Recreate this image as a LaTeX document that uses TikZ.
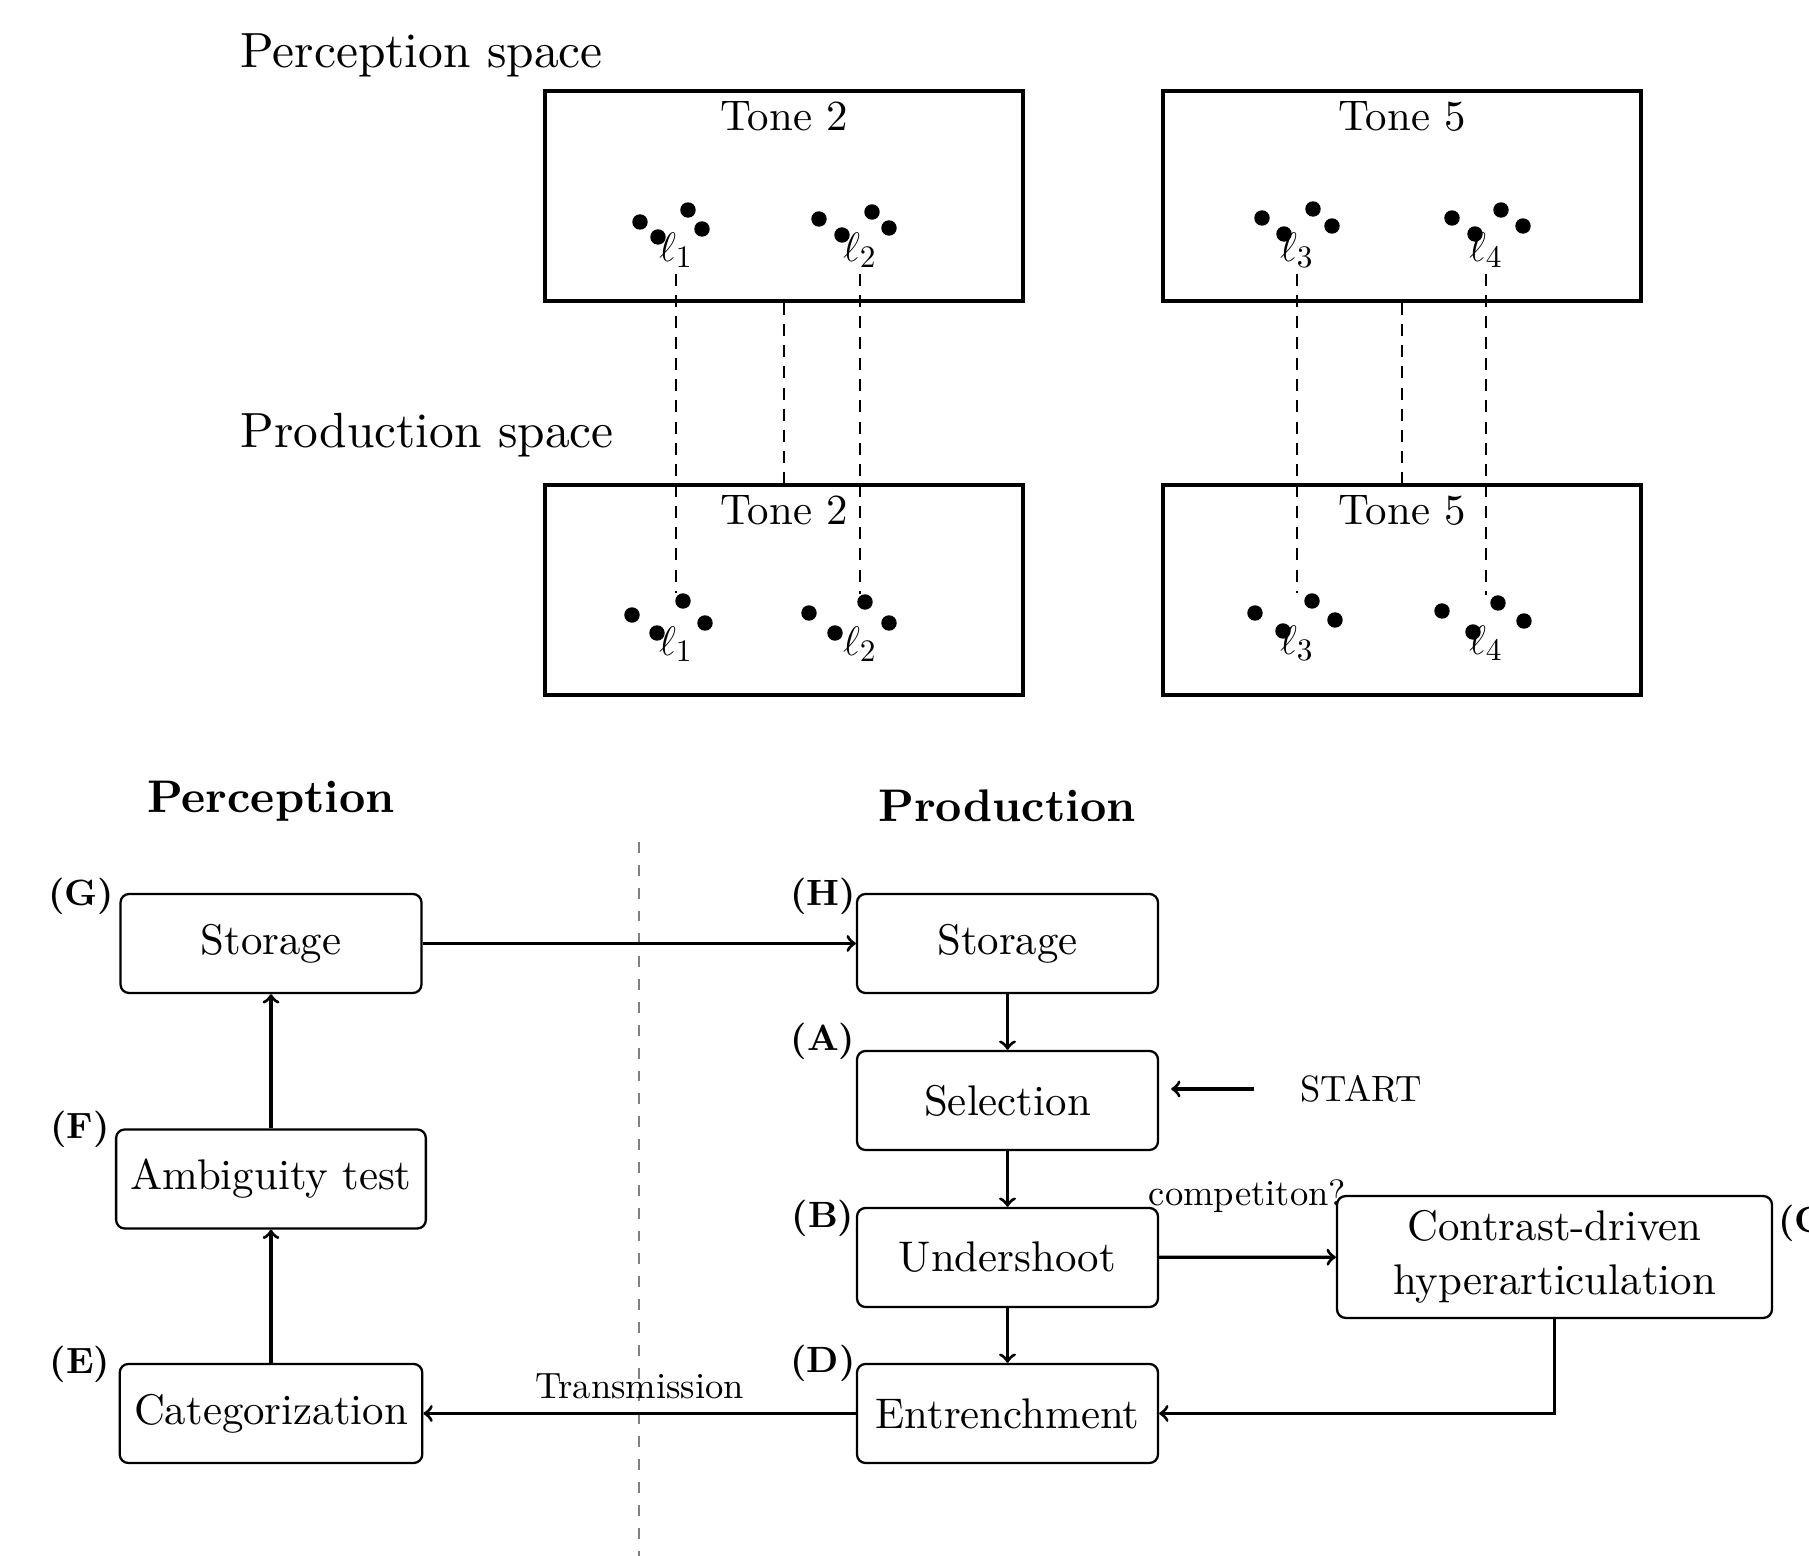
\documentclass[tikz,border=0pt]{standalone}
\usepackage{fontspec}
\setmainfont{lmroman10-regular.otf}[BoldFont=lmroman10-bold.otf,ItalicFont=lmroman10-italic.otf]
\begin{document}
\begin{tikzpicture}[x=0.35pt,y=-0.35pt,
  tonebox/.style={draw,line width=1.4pt,minimum width=167.3pt,minimum height=73.5pt,inner sep=0pt},
  tonetxt/.style={font=\fontsize{15}{18}\selectfont,inner sep=0pt},
  dotn/.style={circle,fill=black,inner sep=0pt,minimum size=5.4pt},
  ell/.style={font=\fontsize{15}{18}\selectfont,inner sep=2pt},
  link/.style={line width=0.75pt,dash pattern=on 4.2pt off 3.2pt},
  flow/.style={draw,rounded corners=3pt,line width=0.8pt,minimum width=105.35pt,minimum height=34.65pt,inner sep=5pt,font=\fontsize{15}{19}\selectfont,align=center},
  arr/.style={->,line width=1.15pt},
  tag/.style={font=\fontsize{12.8}{15}\selectfont\bfseries},
  small/.style={font=\fontsize{12.8}{15}\selectfont},
  spacelbl/.style={font=\fontsize{17.3}{20}\selectfont,inner sep=0pt,anchor=west},
  head/.style={font=\fontsize{16}{19}\selectfont\bfseries,inner sep=0pt}
]
\useasboundingbox (0,0) rectangle (1809,1556);

% ---------- top part ----------
\node[spacelbl] (perspace) at (240,55) {Perception space};
\node[spacelbl] (prodspace) at (240,435) {Production space};

\node[tonebox] (tl) at (784,196) {};
\node[tonebox] (tr) at (1402,196) {};
\node[tonebox] (bl) at (784,590) {};
\node[tonebox] (br) at (1402,590) {};

\node[tonetxt] (tlt) at ([yshift=-9.6pt]tl.north) {Tone 2};
\node[tonetxt] (trt) at ([yshift=-9.6pt]tr.north) {Tone 5};
\node[tonetxt] (blt) at ([yshift=-9.6pt]bl.north) {Tone 2};
\node[tonetxt] (brt) at ([yshift=-9.6pt]br.north) {Tone 5};

% top-left clusters
\node[dotn] (a1) at (640,222) {};
\node[dotn] (a2) at (658,237) {};
\node[dotn] (a3) at (688,210) {};
\node[dotn] (a4) at (702,229) {};
\node[ell] (l1t) at (676,250) {$\ell_1$};
\node[dotn] (b1) at (819,219) {};
\node[dotn] (b2) at (842,235) {};
\node[dotn] (b3) at (872,212) {};
\node[dotn] (b4) at (889,228) {};
\node[ell] (l2t) at (860,250) {$\ell_2$};
% top-right clusters
\node[dotn] (c1) at (1262,218) {};
\node[dotn] (c2) at (1284,234) {};
\node[dotn] (c3) at (1313,209) {};
\node[dotn] (c4) at (1332,226) {};
\node[ell] (l3t) at (1297,250) {$\ell_3$};
\node[dotn] (d1) at (1452,218) {};
\node[dotn] (d2) at (1475,234) {};
\node[dotn] (d3) at (1501,210) {};
\node[dotn] (d4) at (1523,226) {};
\node[ell] (l4t) at (1486,250) {$\ell_4$};
% bottom-left clusters
\node[dotn] (e1) at (632,615) {};
\node[dotn] (e2) at (657,633) {};
\node[dotn] (e3) at (683,601) {};
\node[dotn] (e4) at (705,623) {};
\node[ell] (l1b) at (676,644) {$\ell_1$};
\node[dotn] (f1) at (809,613) {};
\node[dotn] (f2) at (835,633) {};
\node[dotn] (f3) at (865,602) {};
\node[dotn] (f4) at (889,623) {};
\node[ell] (l2b) at (860,644) {$\ell_2$};
% bottom-right clusters
\node[dotn] (g1) at (1255,613) {};
\node[dotn] (g2) at (1283,631) {};
\node[dotn] (g3) at (1312,601) {};
\node[dotn] (g4) at (1335,620) {};
\node[ell] (l3b) at (1297,643) {$\ell_3$};
\node[dotn] (h1) at (1442,611) {};
\node[dotn] (h2) at (1473,632) {};
\node[dotn] (h3) at (1498,603) {};
\node[dotn] (h4) at (1524,621) {};
\node[ell] (l4b) at (1486,643) {$\ell_4$};

% dashed links
\draw[link] (l1t.south) -- (l1t.south |- e3.north);
\draw[link] (l2t.south) -- (l2t.south |- f3.north);
\draw[link] (tl.south) -- (bl.north);
\draw[link] (l3t.south) -- (l3t.south |- g3.north);
\draw[link] (l4t.south) -- (l4t.south |- h3.north);
\draw[link] (tr.south) -- (br.north);

% ---------- flow chart ----------
\node[head] (hper) at (271,801) {Perception};
\node[head] (hpro) at (1007,806) {Production};

\coordinate (s1) at (639,842);
\coordinate (s2) at (639,1556);
\draw[gray,line width=0.6pt,dash pattern=on 3.8pt off 4.2pt] (s1) -- (s2);

\node[flow] (G) at (271,943.5) {Storage};
\node[flow] (F) at (271,1179) {Ambiguity test};
\node[flow] (E) at (271,1413.5) {Categorization};
\node[flow] (H) at (1007.5,943.5) {Storage};
\node[flow] (A) at (1007.5,1100.5) {Selection};
\node[flow] (B) at (1007.5,1257.5) {Undershoot};
\node[flow] (D) at (1007.5,1413.5) {Entrenchment};
\node[flow,minimum width=152.25pt,minimum height=41.3pt] (C) at (1554.5,1257) {Contrast-driven\\hyperarticulation};

\node[tag] (tG) at (81,896) {(G)};
\node[tag] (tF) at (80,1129) {(F)};
\node[tag] (tE) at (80,1364) {(E)};
\node[tag] (tH) at (823,896) {(H)};
\node[tag] (tA) at (823,1041) {(A)};
\node[tag] (tB) at (823,1218) {(B)};
\node[tag] (tD) at (823,1363) {(D)};
\node[tag,anchor=north west,inner sep=1.5pt] (tC) at ([yshift=-2pt]C.north east) {(C)};

\node[small,inner xsep=16pt] (start) at (1361,1089) {START};

\draw[arr] (G) -- (H);
\draw[arr] (E) -- (F);
\draw[arr] (F) -- (G);
\draw[arr] (H) -- (A);
\draw[arr] (A) -- (B);
\draw[arr] (B) -- (D);
\draw[arr] (B) -- node[small,yshift=21.3pt] (comp) {competiton?} (C);
\draw[arr] (C.south) |- (D.east);
\draw[arr] (D) -- node[small,yshift=9.5pt] (trans) {Transmission} (E);
\draw[arr,shorten >=4.2pt] (start.west) -- (start.west -| A.east);
\end{tikzpicture}
\end{document}
